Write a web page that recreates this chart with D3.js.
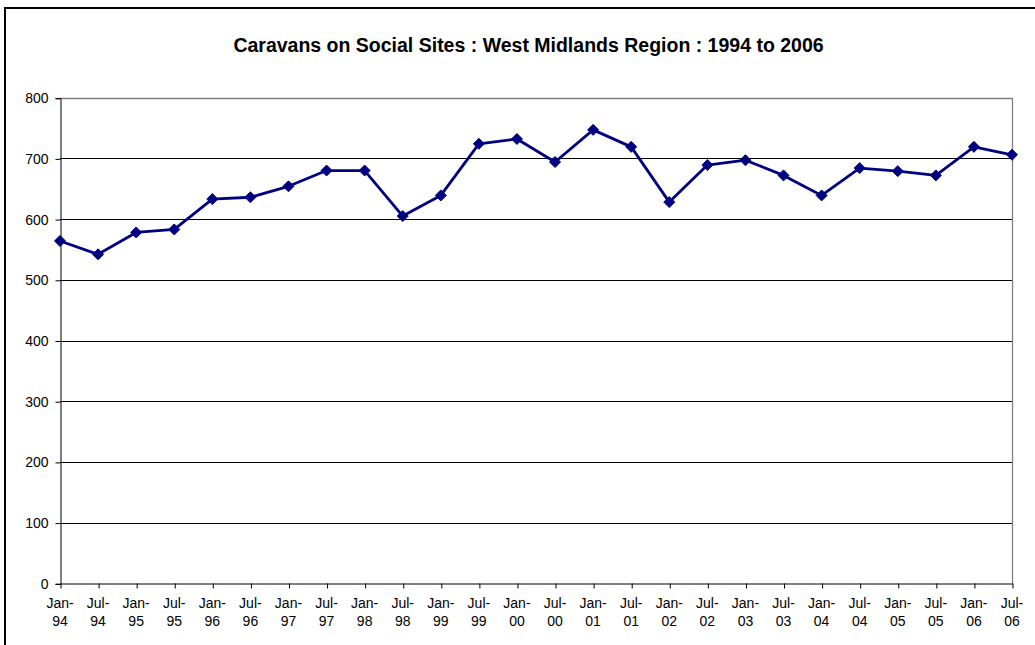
<!DOCTYPE html>
<html><head><meta charset="utf-8">
<script src="https://cdn.jsdelivr.net/npm/d3@7"></script>
<style>html,body{margin:0;padding:0;background:#fff;overflow:hidden}</style>
</head><body>
<svg id="c" width="1035" height="645"></svg>
<script>
const categories = ["Jan-94","Jul-94","Jan-95","Jul-95","Jan-96","Jul-96","Jan-97","Jul-97","Jan-98","Jul-98","Jan-99","Jul-99","Jan-00","Jul-00","Jan-01","Jul-01","Jan-02","Jul-02","Jan-03","Jul-03","Jan-04","Jul-04","Jan-05","Jul-05","Jan-06","Jul-06"];
const caravans = [564,542,578,583,633,636,654,680,680,605,639,724,732,694,747,719,628,689,697,672,639,684,679,672,719,706];
const yTicks = [0,100,200,300,400,500,600,700,800];
const title = "Caravans on Social Sites : West Midlands Region : 1994 to 2006";

const svg = d3.select("#c");
const m = {left:60, right:1012, top:97.7, bottom:583.3};
const font = "Arial, 'Liberation Sans', sans-serif";

svg.append("rect").attr("x",5).attr("y",8).attr("width",1100).attr("height",700)
  .attr("fill","#fff").attr("stroke","#000").attr("stroke-width",2);

const x = d3.scalePoint().domain(categories).range([m.left, m.right]).padding(0);
const y = d3.scaleLinear().domain([0,800]).range([m.bottom, m.top]);

// gridlines
svg.append("g").selectAll("line").data(yTicks.filter(v=>v>0 && v<800)).join("line")
  .attr("x1",m.left).attr("x2",m.right)
  .attr("y1",d=>Math.round(y(d))+0.5).attr("y2",d=>Math.round(y(d))+0.5)
  .attr("stroke","#000").attr("stroke-width",1);

// plot area border (top & right gray)
svg.append("path")
  .attr("d",`M${m.left},${Math.round(m.top)+0.5}H${m.right+0.5}V${m.bottom}`)
  .attr("fill","none").attr("stroke","#808080").attr("stroke-width",1.3);

// y axis
const yAxis = d3.axisLeft(y).tickValues(yTicks).tickSize(5).tickPadding(7).tickFormat(d3.format("d"));
const gy = svg.append("g").attr("transform",`translate(${m.left+0.5},0.5)`).call(yAxis);
gy.select(".domain").attr("stroke","#000");
gy.selectAll(".tick line").attr("stroke","#000");
gy.selectAll("text").attr("font-family",font).attr("font-size","14px").attr("fill","#000");

// x axis
const xAxis = d3.axisBottom(x).tickSize(5).tickSizeOuter(0).tickFormat("");
const gx = svg.append("g").attr("transform",`translate(0.5,${Math.round(m.bottom)+0.5})`).call(xAxis);
gx.select(".domain").attr("stroke","#000");
gx.selectAll(".tick line").attr("stroke","#000");

const lab = svg.append("g").selectAll("text").data(categories).join("text")
  .attr("x",d=>x(d)).attr("text-anchor","middle")
  .attr("font-family",font).attr("font-size","14px").attr("fill","#000");
lab.append("tspan").attr("x",d=>x(d)).attr("y",607.5).text(d=>d.split("-")[0]+"-");
lab.append("tspan").attr("x",d=>x(d)).attr("y",625.5).text(d=>d.split("-")[1]);

// line
const line = d3.line().x((d,i)=>x(categories[i])).y(d=>y(d));
svg.append("path").datum(caravans).attr("d",line)
  .attr("fill","none").attr("stroke","#000080").attr("stroke-width",2.8).attr("stroke-linejoin","round");

// markers
svg.append("g").selectAll("path").data(caravans).join("path")
  .attr("transform",(d,i)=>`translate(${x(categories[i])},${y(d)})`)
  .attr("d","M0,-5.5L5.5,0L0,5.5L-5.5,0Z")
  .attr("fill","#000080").attr("stroke","#000080").attr("stroke-width",1);

// title
svg.append("text").attr("x",528.5).attr("y",51.5).attr("text-anchor","middle")
  .attr("font-family",font).attr("font-weight","bold").attr("font-size","19.5px").attr("fill","#000")
  .text(title);
</script>
</body></html>
